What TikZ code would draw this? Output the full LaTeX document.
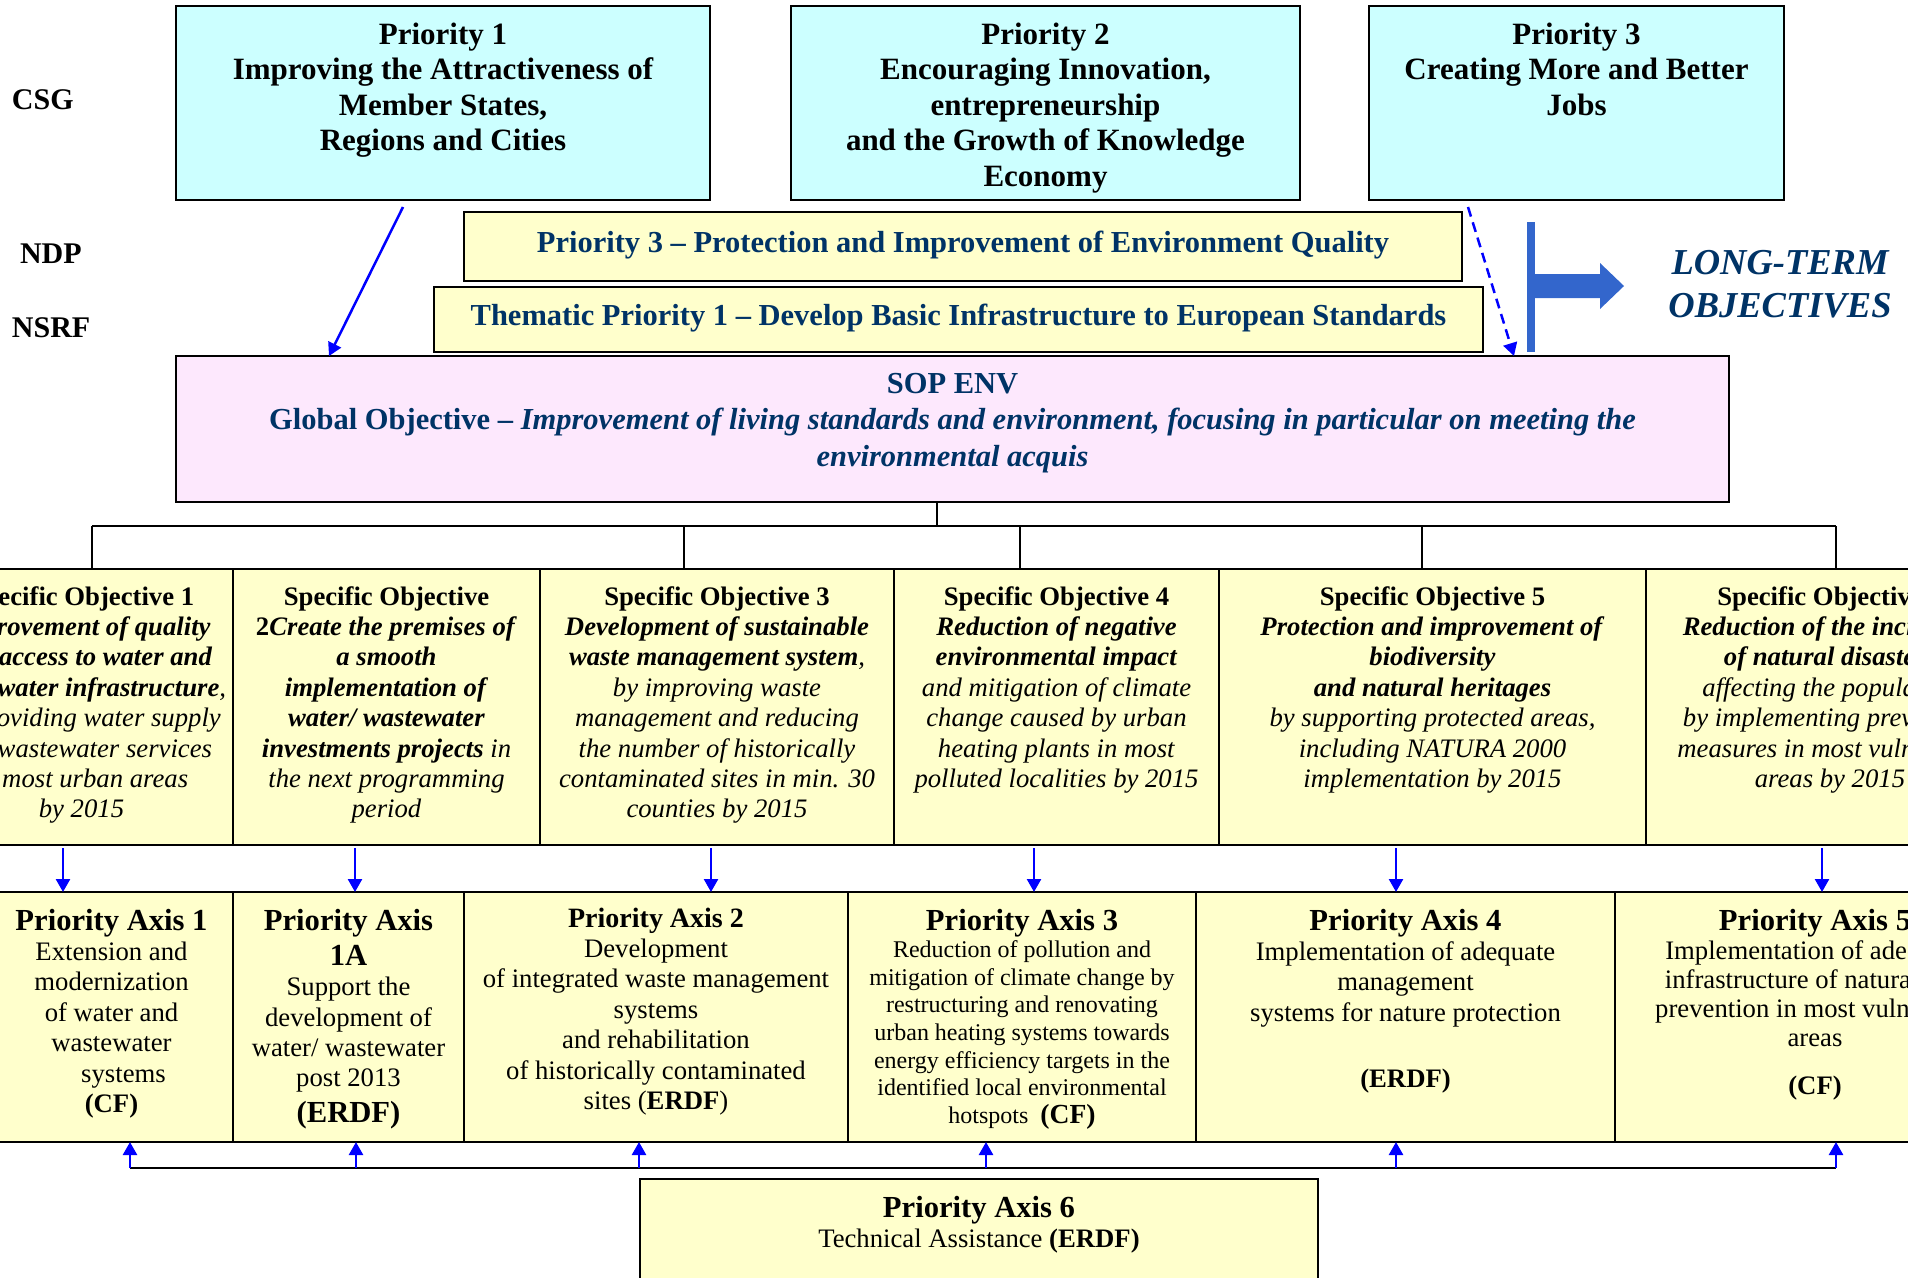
\documentclass[tikz,border=0pt]{standalone}
\usepackage{fontspec}
\setmainfont{Liberation Serif}
\usetikzlibrary{arrows.meta,positioning}

\definecolor{csgcyan}{HTML}{CCFFFF}
\definecolor{boxyellow}{HTML}{FFFFCC}
\definecolor{soppink}{HTML}{FDE8FD}
\definecolor{navy}{HTML}{003366}
\definecolor{arrowblue}{HTML}{0000FF}
\definecolor{termblue}{HTML}{3366CC}

\newcommand{\boxtext}[4]{\parbox[c][#2pt][t]{#1pt}{\centering\rule{0pt}{#3pt}#4\par}}
\newcommand{\topfont}{\fontsize{31}{35.6}\selectfont\bfseries}
\newcommand{\bandfont}{\fontsize{30.5}{35}\selectfont\bfseries}
\newcommand{\sopfont}{\fontsize{30.5}{36.5}\selectfont\bfseries}
\newcommand{\tierfont}{\fontsize{30}{34}\selectfont\bfseries}
\newcommand{\sofont}{\fontsize{26.7}{30.4}\selectfont}
\newcommand{\patitle}{\fontsize{30.6}{35.2}\selectfont\bfseries}
\newcommand{\pabody}{\fontsize{26.7}{30.4}\selectfont}
\newcommand{\pasmall}{\fontsize{24}{27.6}\selectfont}
\newcommand{\bitext}[1]{\textbf{\textit{#1}}}

\begin{document}
\begin{tikzpicture}[x=1pt,y=-1pt,
    every node/.style={inner sep=0pt,outer sep=0pt,anchor=north west},
    boxframe/.style={draw,line width=1.8pt},
    csgbox/.style={boxframe,fill=csgcyan,font=\topfont},
    bandbox/.style={boxframe,fill=boxyellow,text=navy,font=\bandfont},
    sopbox/.style={boxframe,fill=soppink,text=navy,font=\sopfont},
    sobox/.style={boxframe,fill=boxyellow,font=\sofont},
    pabox/.style={boxframe,fill=boxyellow,font=\pabody},
    tierlabel/.style={anchor=base west,font=\tierfont},
    treeline/.style={line width=1.8pt},
    blarrow/.style={arrowblue,line width=2.5pt,-{Triangle[length=13pt,width=14pt]}}]
\useasboundingbox (0,0) rectangle (1908,1277);
\clip (0,0) rectangle (1908,1277);

% levels
\node[tierlabel] (csg) at (12,109) {CSG};
\node[tierlabel] (ndp) at (20,263) {NDP};
\node[tierlabel] (nsrf) at (12,337) {NSRF};

% community strategic guidelines
\node[csgbox] (p1) at (176,6) {\boxtext{534}{194}{38}{Priority 1\\Improving the Attractiveness of\\Member States,\\Regions and Cities}};
\node[csgbox] (p2) at (791,6) {\boxtext{509}{194}{38}{Priority 2\\Encouraging Innovation,\\entrepreneurship\\and the Growth of Knowledge\\Economy}};
\node[csgbox] (p3) at (1369,6) {\boxtext{415}{194}{38}{Priority 3\\Creating More and Better\\Jobs}};

\node[bandbox] (ndpbox) at (464,212) {\boxtext{998}{69}{40}{Priority 3 -- Protection and Improvement of Environment Quality}};
\node[bandbox] (nsrfbox) at (434,287) {\boxtext{1049}{65}{38}{Thematic Priority 1 -- Develop Basic Infrastructure to European Standards}};

\node[sopbox] (sop) at (176,356) {\boxtext{1553}{146}{37}{SOP ENV\\Global Objective -- \textit{Improvement of living standards and environment, focusing in particular on meeting the}\\\textit{environmental acquis}}};

% long-term objectives
\fill[termblue] (1527,222) rectangle (1535,352);
\fill[termblue] (1535,274) -- (1600,274) -- (1600,263) -- (1624,286) -- (1600,309) -- (1600,298) -- (1535,298) -- cycle;
\node[anchor=center,align=center,text=navy,font=\fontsize{36.5}{42.5}\selectfont\bfseries\itshape] (longterm) at (1780,284) {LONG-TERM\\OBJECTIVES};

% specific objectives
\node[sobox] (so1) at (-70,569) {\boxtext{303}{276}{36}{{\bfseries Specific Objective 1}\\\bitext{Improvement of quality}\\\bitext{and access to water and}\\\bitext{wastewater infrastructure}\textit{,}\\\textit{by providing water supply}\\\textit{and wastewater services}\\\textit{in most urban areas}\\\textit{by 2015}}};
\node[sobox] (so2) at (233,569) {\boxtext{307}{276}{36}{{\bfseries Specific Objective}\\\textbf{2}\bitext{Create the premises of}\\\bitext{a smooth}\\\bitext{implementation of}\\\bitext{water/ wastewater}\\\bitext{investments projects}\textit{ in}\\\textit{the next programming}\\\textit{period}}};
\node[sobox] (so3) at (540,569) {\boxtext{354}{276}{36}{{\bfseries Specific Objective 3}\\\bitext{Development of sustainable}\\\bitext{waste management system}\textit{,}\\\textit{by improving waste}\\\textit{management and reducing}\\\textit{the number of historically}\\\textit{contaminated sites in min. 30}\\\textit{counties by 2015}}};
\node[sobox] (so4) at (894,569) {\boxtext{325}{276}{36}{{\bfseries Specific Objective 4}\\\bitext{Reduction of negative}\\\bitext{environmental impact}\\\textit{and mitigation of climate}\\\textit{change caused by urban}\\\textit{heating plants in most}\\\textit{polluted localities by 2015}}};
\node[sobox] (so5) at (1219,569) {\boxtext{427}{276}{36}{{\bfseries Specific Objective 5}\\\bitext{Protection and improvement of}\\\bitext{biodiversity}\\\bitext{and natural heritages}\\\textit{by supporting protected areas,}\\\textit{including NATURA 2000}\\\textit{implementation by 2015}}};
\node[sobox] (so6) at (1646,569) {\boxtext{368}{276}{36}{{\bfseries Specific Objective 6}\\\bitext{Reduction of the incidence}\\\bitext{of natural disasters}\\\textit{affecting the population}\\\textit{by implementing preventive}\\\textit{measures in most vulnerable}\\\textit{areas by 2015}}};

% priority axes
\node[pabox] (pa1) at (-10,892) {\boxtext{243}{250}{38}{{\patitle Priority Axis 1\par}Extension and\\modernization\\of water and\\wastewater\\\hspace*{24pt}systems\\\textbf{(CF)}}};
\node[pabox] (pa1a) at (233,892) {\boxtext{231}{250}{38}{{\patitle Priority Axis\\1A\par}Support the\\development of\\water/ wastewater\\post 2013\par{\patitle (ERDF)\par}}};
\node[pabox] (pa2) at (464,892) {\boxtext{384}{250}{35}{{\fontsize{28}{32.2}\selectfont\bfseries Priority Axis 2\par}Development\\of integrated waste management\\systems\\and rehabilitation\\of historically contaminated\\sites (\textbf{ERDF})}};
\node[pabox] (pa3) at (848,892) {\boxtext{348}{250}{38}{{\patitle Priority Axis 3\par}{\pasmall Reduction of pollution and\\mitigation of climate change by\\restructuring and renovating\\urban heating systems towards\\energy efficiency targets in the\\identified local environmental\\hotspots~~{\fontsize{27.6}{27.6}\selectfont\bfseries(CF)}\par}}};
\node[pabox] (pa4) at (1196,892) {\boxtext{419}{250}{38}{{\patitle Priority Axis 4\par}Implementation of adequate\\management\\systems for nature protection\\[36pt]\textbf{(ERDF)}}};
\node[pabox] (pa5) at (1615,892) {\boxtext{400}{250}{38}{{\patitle Priority Axis 5\par}{\baselineskip=29pt Implementation of adequate\\infrastructure of natural risk\\prevention in most vulnerable\\areas\\[19pt]\textbf{(CF)}\par}}};
\node[pabox] (pa6) at (640,1179) {\boxtext{678}{130}{38}{{\patitle Priority Axis 6\par}Technical Assistance \textbf{(ERDF)}}};

% links from the guidelines
\draw[blarrow] ([xshift=-40pt,yshift=-7pt]p1.south) -- ([xshift=153pt]sop.north west);
\draw[blarrow,dash pattern=on 10pt off 6pt] ([xshift=-108.5pt,yshift=-7pt]p3.south) -- ([xshift=-215pt]sop.north east);

% tree down to the specific objectives
\coordinate (tree) at (0,526);
\draw[treeline] ([xshift=-15.5pt]sop.south) coordinate (trunk) -- (trunk |- tree);
\foreach \s/\dx in {so1/10.5,so3/-33,so4/-36.5,so5/-10.5,so6/6}
  \draw[treeline] ([xshift=\dx pt]\s.north) coordinate (drop\s) -- (drop\s |- tree);
\draw[treeline] (dropso1 |- tree) -- (dropso6 |- tree);

% objectives to axes
\foreach \s/\p/\dx in {so1/pa1/-18.5,so2/pa1a/-31.5,so3/pa2/-6,so4/pa3/-22.5,so5/pa4/-36.5,so6/pa5/-8}
  \draw[blarrow] ([xshift=\dx pt,yshift=-3pt]\s.south) coordinate (from) -- (from |- \p.north);

% technical assistance bus
\coordinate (bus) at (0,1168);
\foreach \p/\dx in {pa1/18.5,pa1a/7.5,pa2/-17,pa3/-36,pa4/-9.5,pa5/21}
  \path ([xshift=\dx pt]\p.south) coordinate (up\p);
\draw[treeline] (uppa1 |- bus) -- (uppa5 |- bus);
\foreach \p in {pa1,pa1a,pa2,pa3,pa4,pa5}
  \draw[blarrow] (up\p |- bus) -- (up\p);
\end{tikzpicture}
\end{document}
